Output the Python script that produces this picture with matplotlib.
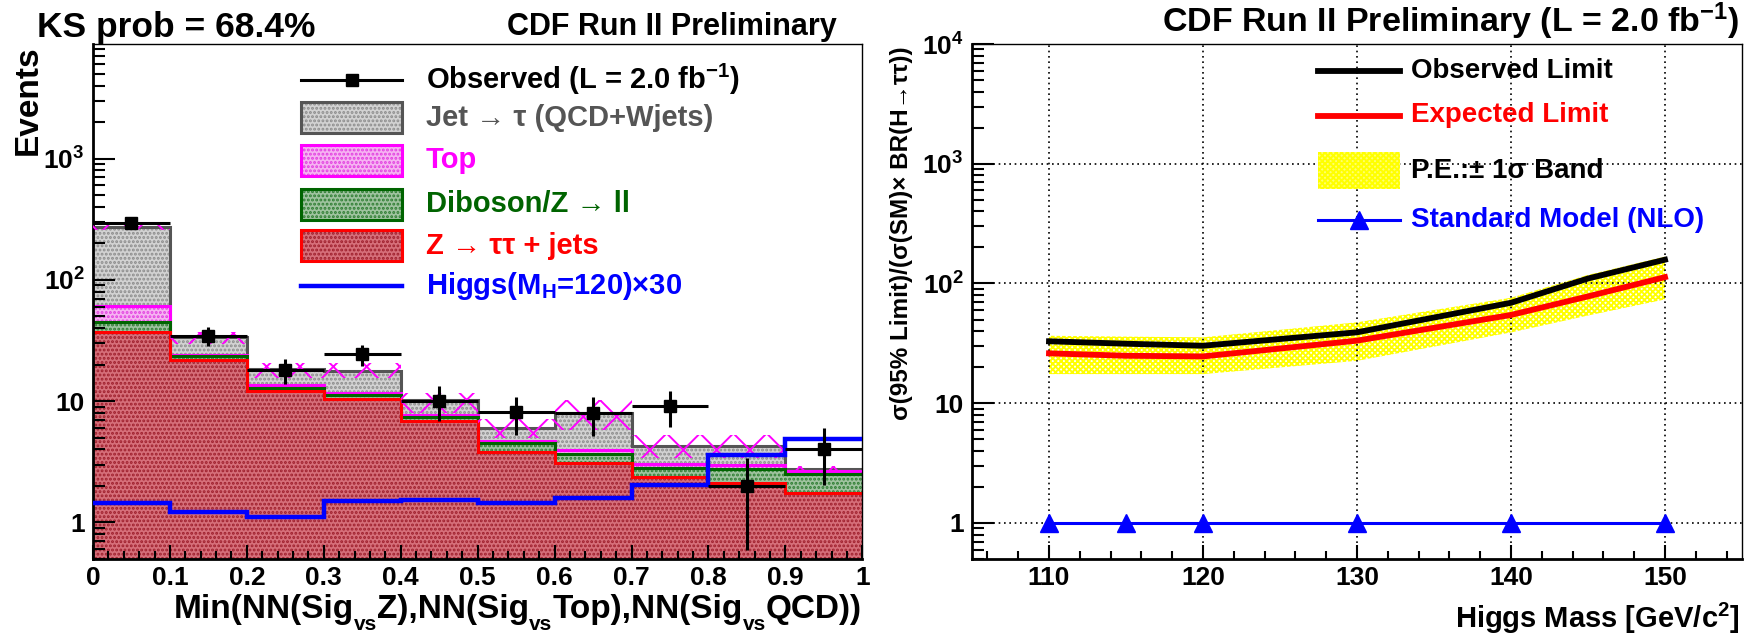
import matplotlib as mpl
mpl.use('Agg')
import matplotlib.pyplot as plt
import numpy as np
from matplotlib.ticker import FixedLocator, FixedFormatter, LogLocator, MultipleLocator, NullFormatter

plt.rcParams['font.family'] = ['Liberation Sans', 'DejaVu Sans']
plt.rcParams['font.weight'] = 'bold'
plt.rcParams['mathtext.default'] = 'regular'
plt.rcParams['hatch.linewidth'] = 1.4

#%% data - left panel (NN output, stacked backgrounds)
bin_edges = [0.0, 0.1, 0.2, 0.3, 0.4, 0.5, 0.6, 0.7, 0.8, 0.9, 1.0]
bin_centers = [0.05, 0.15, 0.25, 0.35, 0.45, 0.55, 0.65, 0.75, 0.85, 0.95]
ztautau = [36.9, 21.8, 12.1, 10.5, 6.92, 3.78, 3.08, 2.39, 2.13, 1.76]
diboson = [8.3, 1.6, 0.8, 0.7, 0.46, 0.74, 0.61, 0.41, 0.62, 0.76]
top = [16.1, 0.6, 0.6, 0.4, 0.37, 0.14, 0.29, 0.24, 0.24, 0.13]
jet_tau = [212.7, 9.5, 5.0, 6.2, 2.45, 1.36, 4.02, 1.2, 1.25, 0.1]
syst_lo = [257, 29.5, 15.6, 15.6, 8.0, 5.0, 5.8, 3.4, 3.4, 2.63]
syst_hi = [290, 36.9, 20.8, 20.8, 11.7, 7.1, 10.3, 5.3, 5.3, 2.9]
higgs_x30 = [1.44, 1.22, 1.11, 1.50, 1.53, 1.44, 1.58, 2.04, 3.57, 4.88]
observed = [296, 34.6, 18.1, 24.4, 10.1, 8.1, 8.0, 9.1, 2.0, 4.03]
observed_err = [17, 5.9, 4.2, 4.8, 3.2, 2.8, 2.8, 3.0, 1.41, 2.0]
x_ticklabels = ['0', '0.1', '0.2', '0.3', '0.4', '0.5', '0.6', '0.7', '0.8', '0.9', '1']

#%% data - right panel (limits)
limit_mass = [110, 115, 120, 130, 140, 145, 150]
obs_limit = [32.9, 31.4, 30.2, 39.1, 69.0, 110, 158]
exp_limit = [26.1, 24.9, 24.6, 33.3, 54.6, 78, 113]
band_hi = [36.6, 36.0, 35.5, 47.4, 76, 118, 168]
band_lo = [17.5, 17.5, 17.5, 22.6, 39, 54, 73.6]
sm_mass = [110, 115, 120, 130, 140, 150]
sm_ratio = [1, 1, 1, 1, 1, 1]

W, H = 1759, 637
fig = plt.figure(figsize=(W / 100, H / 100), dpi=100)

def fx(px):
    return px / W

def fy(py):
    return 1 - py / H

axL = fig.add_axes([fx(93), fy(559), fx(862.3 - 93), (559 - 44) / H])
axR = fig.add_axes([fx(972), fy(559), fx(1742 - 972), (559 - 44) / H])

#%% left: stacked histogram
c_red = np.array(ztautau)
c_green = c_red + np.array(diboson)
c_mag = c_green + np.array(top)
c_gray = c_mag + np.array(jet_tau)
base = 0.01

layers = [(c_gray, '#d2d2d2', '#8c8c8c', '#555555'),
          (c_mag, '#f6b3f2', '#e23fe0', '#ff00ff'),
          (c_green, '#9fc39f', '#2e7d32', '#006400'),
          (c_red, '#d66f7a', '#9e1f2c', '#ff0000')]
for vals, fc, hc, lc in layers:
    axL.stairs(vals, bin_edges, baseline=base, fill=True, facecolor=fc,
               edgecolor=hc, hatch='....', lw=0, zorder=1)
for vals, fc, hc, lc in layers:
    axL.stairs(vals, bin_edges, baseline=None, color=lc, lw=2.2, zorder=2)

axL.stairs(syst_hi, bin_edges, baseline=syst_lo, fill=True, facecolor='none',
           edgecolor='#ff00ff', hatch='x', lw=0, zorder=3)
axL.stairs(higgs_x30, bin_edges, baseline=None, color='#0000ff', lw=3.2, zorder=4)
axL.errorbar(bin_centers, observed, xerr=0.05, yerr=observed_err, fmt='s',
             color='black', ms=9, elinewidth=2.2, capsize=0, zorder=5)

axL.set_yscale('log')
axL.set_xlim(0, 1)
axL.set_ylim(0.5, 8800)
axL.xaxis.set_major_locator(FixedLocator(bin_edges))
axL.xaxis.set_major_formatter(FixedFormatter(x_ticklabels))
axL.xaxis.set_minor_locator(MultipleLocator(0.02))
axL.yaxis.set_major_locator(FixedLocator([1, 10, 100, 1000]))
axL.yaxis.set_major_formatter(FixedFormatter(['1', '10', '$10^{2}$', '$10^{3}$']))
axL.yaxis.set_minor_locator(LogLocator(subs=np.arange(2, 10)))
axL.yaxis.set_minor_formatter(NullFormatter())

#%% right: limits
axR.grid(True, which='major', color='black', ls=(0, (1, 2.2)), lw=1.2, zorder=0)
axR.fill_between(limit_mass, band_lo, band_hi, facecolor='none', edgecolor='#ffff00',
                 hatch='xxxxxx', lw=0, zorder=2)
axR.plot(limit_mass, obs_limit, color='black', lw=4.2, zorder=3)
axR.plot(limit_mass, exp_limit, color='#ff0000', lw=4.2, zorder=3)
axR.plot(sm_mass, sm_ratio, color='#0000ff', lw=2.2, marker='^', ms=13, zorder=4)

axR.set_yscale('log')
axR.set_xlim(105, 155)
axR.set_ylim(0.5, 1e4)
axR.xaxis.set_major_locator(MultipleLocator(10))
axR.xaxis.set_minor_locator(MultipleLocator(2))
axR.yaxis.set_major_locator(FixedLocator([1, 10, 100, 1000, 10000]))
axR.yaxis.set_major_formatter(FixedFormatter(['1', '10', '$10^{2}$', '$10^{3}$', '$10^{4}$']))
axR.yaxis.set_minor_locator(LogLocator(subs=np.arange(2, 10)))
axR.yaxis.set_minor_formatter(NullFormatter())

for ax in (axL, axR):
    ax.tick_params(which='both', direction='in', top=False, right=False, labelsize=19)
    ax.tick_params(axis='y', which='major', length=16, width=1.5, pad=6)
    ax.tick_params(axis='y', which='minor', length=8.5, width=1.5)
    ax.tick_params(axis='x', which='major', length=10, width=1.5, pad=5)
    ax.tick_params(axis='x', which='minor', length=5.5, width=1.5)
    for s in ('left', 'bottom'):
        ax.spines[s].set_linewidth(2)
    for s in ('top', 'right'):
        ax.spines[s].set_linewidth(1)
    ax.set_axisbelow(False)

#%% titles / labels
fig.text(fx(37), fy(37), 'KS prob = 68.4%', size=25.5, ha='left', va='baseline')
fig.text(fx(837), fy(35), 'CDF Run II Preliminary', size=22, ha='right', va='baseline')
fig.text(fx(1739), fy(32), 'CDF Run II Preliminary (L = 2.0 fb$^{-1}$)', size=24.5,
         ha='right', va='baseline')
fig.text(fx(28), fy(45), 'Events', size=24, rotation=90, ha='center', va='top')
fig.text(fx(902), fy(46), 'σ(95% Limit)/(σ(SM)× BR(H→ττ))', size=17.5, rotation=90,
         ha='center', va='top')
fig.text(fx(1740), fy(628), 'Higgs Mass [GeV/c$^{2}$]', size=21, ha='right', va='baseline')

# x title of left panel, built in pieces so the "vs" subscripts sit low like ROOT's
xt_parts = [('Min(NN(Sig', False), ('vs', True), ('Z),NN(Sig', False), ('vs', True),
            ('Top),NN(Sig', False), ('vs', True), ('QCD))', False)]
first = fig.text(fx(150), fy(618), xt_parts[0][0], size=24, ha='left', va='baseline')
prev, prev_sub = first, False
for txt, sub in xt_parts[1:]:
    if sub:
        dy = -9
    elif prev_sub:
        dy = 9
    else:
        dy = 0
    prev = axL.annotate(txt, xy=(1, 0), xycoords=prev, xytext=(0, dy),
                        textcoords='offset pixels', size=15 if sub else 24,
                        ha='left', va='bottom', annotation_clip=False)
    prev_sub = sub
fig.canvas.draw()
right_px = prev.get_window_extent().x1
first.set_x(first.get_position()[0] + (862 - right_px) / W)

#%% left legend (drawn by hand, ROOT style)
leg_x0, leg_x1, leg_tx = fx(301), fx(402), fx(426)
fig.add_artist(plt.Line2D([leg_x0, leg_x1], [fy(79.6)] * 2, color='black', lw=2.2))
fig.add_artist(plt.Line2D([(leg_x0 + leg_x1) / 2], [fy(79.6)], marker='s', color='black', ms=9))
fig.text(leg_tx, fy(79.6), 'Observed (L = 2.0 fb$^{-1}$)', size=21, va='center', color='black')
box_rows = [(117.8, layers[0], 'Jet → τ (QCD+Wjets)', '#555555'),
            (160.4, layers[1], 'Top', '#ff00ff'),
            (204.0, layers[2], 'Diboson/Z → ll', '#006400'),
            (245.7, layers[3], 'Z → ττ + jets', '#ff0000')]
for yc, (vals, fc, hc, lc), label, tc in box_rows:
    fig.add_artist(plt.Rectangle((leg_x0, fy(yc + 15.5)), leg_x1 - leg_x0, 31 / H,
                                 facecolor=fc, edgecolor=hc, hatch='....', lw=0))
    fig.add_artist(plt.Rectangle((leg_x0, fy(yc + 15.5)), leg_x1 - leg_x0, 31 / H,
                                 facecolor='none', edgecolor=lc, lw=2.2))
    fig.text(leg_tx, fy(yc), label, size=21, va='center', color=tc)
fig.add_artist(plt.Line2D([leg_x0, leg_x1], [fy(286)] * 2, color='#0000ff', lw=3.2))
fig.text(leg_tx, fy(286), 'Higgs(M$_{H}$=120)×30', size=21, va='center', color='#0000ff')

#%% right legend
r_x0, r_x1, r_tx = fx(1318), fx(1400), fx(1411)
fig.add_artist(plt.Line2D([r_x0, r_x1], [fy(70.7)] * 2, color='black', lw=4.2))
fig.text(r_tx, fy(70.7), 'Observed Limit', size=20, va='center', color='black')
fig.add_artist(plt.Line2D([r_x0, r_x1], [fy(115.5)] * 2, color='#ff0000', lw=4.2))
fig.text(r_tx, fy(115.5), 'Expected Limit', size=20, va='center', color='#ff0000')
fig.add_artist(plt.Rectangle((r_x0, fy(188.5)), r_x1 - r_x0, 36 / H, facecolor='#ffff70',
                             edgecolor='#ffff00', hatch='xxxxxx', lw=0))
fig.text(r_tx, fy(170.5), 'P.E.:± 1σ Band', size=20, va='center', color='black')
fig.add_artist(plt.Line2D([r_x0, r_x1], [fy(220)] * 2, color='#0000ff', lw=2.2))
fig.add_artist(plt.Line2D([(r_x0 + r_x1) / 2], [fy(220)], marker='^', color='#0000ff', ms=13))
fig.text(r_tx, fy(220), 'Standard Model (NLO)', size=20, va='center', color='#0000ff')

fig.savefig('out.png', dpi=100)
